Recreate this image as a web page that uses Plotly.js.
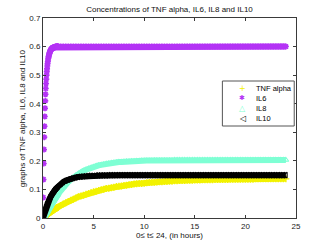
<!DOCTYPE html>
<html>
<head>
<meta charset="utf-8">
<script src="https://cdn.plot.ly/plotly-3.0.1.min.js"></script>
<style>html,body{margin:0;padding:0;background:#fff;}#chart{width:327px;height:246px;}</style>
</head>
<body>
<div id="chart"></div>
<script>
// time grid (hours)
const hours = [0,0.025,0.05,0.075,0.1,0.125,0.15,0.175,0.2,0.225,0.25,0.275,0.3,0.325,0.35,0.375,0.4,0.425,0.45,0.475,0.5,0.525,0.55,0.575,0.6,0.625,0.65,0.675,0.7,0.725,0.75,0.775,0.8,0.825,0.85,0.875,0.9,0.925,0.95,0.975,1,1.025,1.05,1.075,1.1,1.125,1.15,1.175,1.2,1.225,1.25,1.275,1.3,1.325,1.35,1.375,1.4,1.425,1.45,1.475,1.5,
1.75,2,2.25,2.5,2.75,3,3.25,3.5,3.75,4,4.25,4.5,4.75,5,5.25,5.5,5.75,6,6.25,6.5,6.75,7,7.25,7.5,7.75,8,8.25,8.5,8.75,9,9.25,9.5,9.75,10,10.25,10.5,10.75,11,11.25,11.5,11.75,12,12.25,12.5,12.75,13,13.25,13.5,13.75,14,14.25,14.5,14.75,15,15.25,15.5,15.75,16,16.25,16.5,16.75,17,17.25,17.5,17.75,18,18.25,18.5,18.75,19,19.25,19.5,19.75,20,20.25,20.5,20.75,21,21.25,21.5,21.75,22,22.25,22.5,22.75,23,23.25,23.5,23.75,24];

const tnfAlpha = [0,0.001,0.002,0.002,0.003,0.004,0.004,0.005,0.006,0.007,
0.007,0.008,0.009,0.009,0.010,0.011,0.012,0.012,0.013,0.014,
0.014,0.015,0.016,0.016,0.017,0.018,0.018,0.019,0.020,0.020,
0.021,0.021,0.022,0.023,0.023,0.024,0.025,0.025,0.026,0.026,
0.027,0.028,0.028,0.029,0.029,0.030,0.031,0.031,0.032,0.032,
0.033,0.034,0.034,0.035,0.035,0.036,0.036,0.037,0.037,0.038,0.038,
0.044,0.049,0.053,0.058,0.062,0.066,0.070,0.074,0.077,0.080,
0.083,0.086,0.089,0.092,0.094,0.096,0.099,0.101,0.103,0.104,
0.106,0.108,0.110,0.111,0.112,0.114,0.115,0.116,0.117,0.119,
0.120,0.121,0.121,0.122,0.123,0.124,0.125,0.125,0.126,0.127,
0.127,0.128,0.128,0.129,0.129,0.130,0.130,0.131,0.131,0.131,
0.132,0.132,0.132,0.133,0.133,0.133,0.134,0.134,0.134,0.134,
0.134,0.135,0.135,0.135,0.135,0.135,0.135,0.136,0.136,0.136,
0.136,0.136,0.136,0.136,0.136,0.136,0.136,0.137,0.137,0.137,
0.137,0.137,0.137,0.137,0.137,0.137,0.137,0.137,0.137,0.137];

const il6 = [0,0.072,0.135,0.191,0.240,0.283,0.321,0.355,0.384,0.410,
0.433,0.453,0.471,0.486,0.500,0.512,0.522,0.532,0.540,0.547,
0.553,0.559,0.564,0.568,0.572,0.575,0.578,0.581,0.583,0.585,
0.587,0.589,0.590,0.591,0.592,0.593,0.594,0.595,0.595,0.596,
0.596,0.597,0.597,0.597,0.598,0.598,0.598,0.598,0.599,0.599,
0.599,0.599,0.599,0.599,0.599,0.600,0.600,0.600,0.600,0.600,0.600,
0.600,0.600,0.600,0.600,0.600,0.600,0.600,0.600,0.600,0.600,
0.600,0.600,0.600,0.600,0.600,0.600,0.600,0.600,0.600,0.600,
0.600,0.600,0.600,0.600,0.600,0.600,0.600,0.600,0.600,0.600,
0.600,0.600,0.600,0.600,0.600,0.600,0.600,0.600,0.600,0.600,
0.600,0.600,0.600,0.600,0.600,0.600,0.600,0.600,0.600,0.600,
0.600,0.600,0.600,0.600,0.600,0.600,0.600,0.600,0.600,0.600,
0.600,0.600,0.600,0.600,0.600,0.600,0.600,0.600,0.600,0.600,
0.600,0.600,0.600,0.600,0.600,0.600,0.600,0.600,0.600,0.600,
0.600,0.600,0.600,0.600,0.600,0.600,0.600,0.600,0.600,0.600];

const il8 = [0,0.001,0.002,0.003,0.004,0.005,0.006,0.008,0.009,0.010,
0.012,0.013,0.015,0.016,0.018,0.019,0.021,0.022,0.024,0.025,
0.027,0.029,0.030,0.032,0.033,0.035,0.036,0.038,0.039,0.041,
0.042,0.044,0.046,0.047,0.049,0.050,0.052,0.053,0.055,0.056,
0.057,0.059,0.060,0.062,0.063,0.065,0.066,0.067,0.069,0.070,
0.072,0.073,0.074,0.076,0.077,0.078,0.080,0.081,0.082,0.083,0.085,
0.097,0.108,0.118,0.127,0.135,0.142,0.149,0.155,0.160,0.165,
0.169,0.173,0.176,0.179,0.182,0.184,0.186,0.188,0.190,0.191,
0.193,0.194,0.195,0.196,0.196,0.197,0.198,0.198,0.199,0.199,
0.200,0.200,0.201,0.201,0.201,0.201,0.201,0.202,0.202,0.202,
0.202,0.202,0.202,0.202,0.202,0.203,0.203,0.203,0.203,0.203,
0.203,0.203,0.203,0.203,0.203,0.203,0.203,0.203,0.203,0.203,
0.203,0.203,0.203,0.203,0.203,0.203,0.203,0.203,0.203,0.203,
0.203,0.203,0.203,0.203,0.203,0.203,0.203,0.203,0.203,0.203,
0.203,0.203,0.203,0.203,0.203,0.203,0.203,0.203,0.203,0.203];

const il10 = [0,0.003,0.007,0.010,0.013,0.016,0.019,0.022,0.025,0.028,
0.031,0.033,0.036,0.038,0.041,0.043,0.046,0.048,0.050,0.053,
0.055,0.057,0.059,0.061,0.063,0.065,0.067,0.069,0.071,0.072,
0.074,0.076,0.078,0.079,0.081,0.082,0.084,0.085,0.087,0.088,
0.090,0.091,0.092,0.094,0.095,0.096,0.097,0.099,0.100,0.101,
0.102,0.103,0.104,0.105,0.106,0.107,0.108,0.109,0.110,0.111,0.112,
0.119,0.126,0.131,0.135,0.138,0.140,0.142,0.144,0.145,0.146,
0.147,0.148,0.148,0.148,0.149,0.149,0.149,0.149,0.149,0.150,
0.150,0.150,0.150,0.150,0.150,0.150,0.150,0.150,0.150,0.150,
0.150,0.150,0.150,0.150,0.150,0.150,0.150,0.150,0.150,0.150,
0.150,0.150,0.150,0.150,0.150,0.150,0.150,0.150,0.150,0.150,
0.150,0.150,0.150,0.150,0.150,0.150,0.150,0.150,0.150,0.150,
0.150,0.150,0.150,0.150,0.150,0.150,0.150,0.150,0.150,0.150,
0.150,0.150,0.150,0.150,0.150,0.150,0.150,0.150,0.150,0.150,
0.150,0.150,0.150,0.150,0.150,0.150,0.150,0.150,0.150,0.150];

const seriesNames = ['TNF alpha', 'IL6', 'IL8', 'IL10'];
const xTickVals = [0, 5, 10, 15, 20, 25];
const yTickVals = [0, 0.1, 0.2, 0.3, 0.4, 0.5, 0.6, 0.7];
const titleText = 'Concentrations of TNF alpha, IL6, IL8 and IL10';
const xTitle = '0\u2264 t\u2264 24, (in hours)';
const yTitle = 'graphs of TNF alpha, IL6, IL8 and IL10';

const colors = ['#f2f200', '#b433f5', '#7fffd4', '#000000'];
const symbols = ['cross-thin-open', 'asterisk-open', 'triangle-up-open', 'triangle-left-open'];
const sizes = [5, 5, 5, 5];
const markerLineWidths = [1.4, 1.6, 1.1, 1.1];
const legendGlyphs = ['+', '\u2731', '\u25B3', '\u25C1'];
const series = [tnfAlpha, il6, il8, il10];

const traces = [];
series.forEach((vals, i) => {
  // overlapping markers form a solid band once the curve flattens out
  const keep = vals.map((v, j) => i !== 1 || v >= 0.597);
  traces.push({
    type: 'scatter', mode: 'lines', x: hours.filter((t, j) => keep[j]), y: vals.filter((v, j) => keep[j]),
    line: {color: colors[i], width: 6}, showlegend: false, hoverinfo: 'skip'
  });
  traces.push({
    type: 'scatter', mode: 'markers', x: hours, y: vals, name: seriesNames[i],
    marker: {symbol: symbols[i], size: sizes[i], color: colors[i], line: {color: colors[i], width: markerLineWidths[i]}},
    showlegend: false, hoverinfo: 'skip'
  });
});

const font = 'Liberation Sans, Arial, sans-serif';
const annotations = [];
const legTop = 0.6485, legStep = 0.05;
seriesNames.forEach((nm, i) => {
  annotations.push({xref: 'paper', yref: 'paper', x: 0.787, y: legTop - i * legStep, text: legendGlyphs[i],
    showarrow: false, xanchor: 'center', yanchor: 'middle',
    font: {family: 'DejaVu Sans', size: i === 1 ? 7 : 8, color: colors[i]}});
  annotations.push({xref: 'paper', yref: 'paper', x: 0.838, y: legTop - i * legStep, text: nm,
    showarrow: false, xanchor: 'left', yanchor: 'middle', borderpad: 0,
    font: {family: font, size: 7.5, color: '#000'}});
});
annotations.push({xref: 'paper', yref: 'paper', x: -0.082, y: 0.5, text: yTitle, textangle: -90,
  showarrow: false, xanchor: 'center', yanchor: 'middle', borderpad: 0,
  font: {family: font, size: 8, color: '#111'}});

const axisCommon = {
  showline: true, linecolor: '#3a3a3a', linewidth: 1, mirror: 'ticks',
  ticks: 'inside', ticklen: 3, tickcolor: '#3a3a3a', tickwidth: 1,
  showgrid: false, zeroline: false, tickfont: {family: font, size: 8, color: '#222'}
};

const layout = {
  width: 327, height: 246,
  margin: {l: 43, r: 31, t: 18, b: 28},
  paper_bgcolor: '#fff', plot_bgcolor: '#fff',
  title: {text: titleText, font: {family: font, size: 8, color: '#111'}, x: 0.5, xref: 'paper', xanchor: 'center', y: 0.963, yref: 'container', yanchor: 'middle'},
  xaxis: Object.assign({}, axisCommon, {range: [0, 25], tickvals: xTickVals, ticktext: xTickVals.map(String),
    title: {text: xTitle, font: {family: font, size: 8, color: '#111'}, standoff: 2}}),
  yaxis: Object.assign({}, axisCommon, {range: [0, 0.7], tickvals: yTickVals, ticktext: yTickVals.map(String)}),
  shapes: [{type: 'rect', xref: 'paper', yref: 'paper', x0: 0.709, x1: 0.993, y0: 0.46, y1: 0.685,
    line: {color: '#555', width: 1}, fillcolor: '#fff', layer: 'above'}],
  annotations: annotations,
  showlegend: false
};

Plotly.newPlot('chart', traces, layout, {staticPlot: true, displayModeBar: false});
</script>
</body>
</html>
